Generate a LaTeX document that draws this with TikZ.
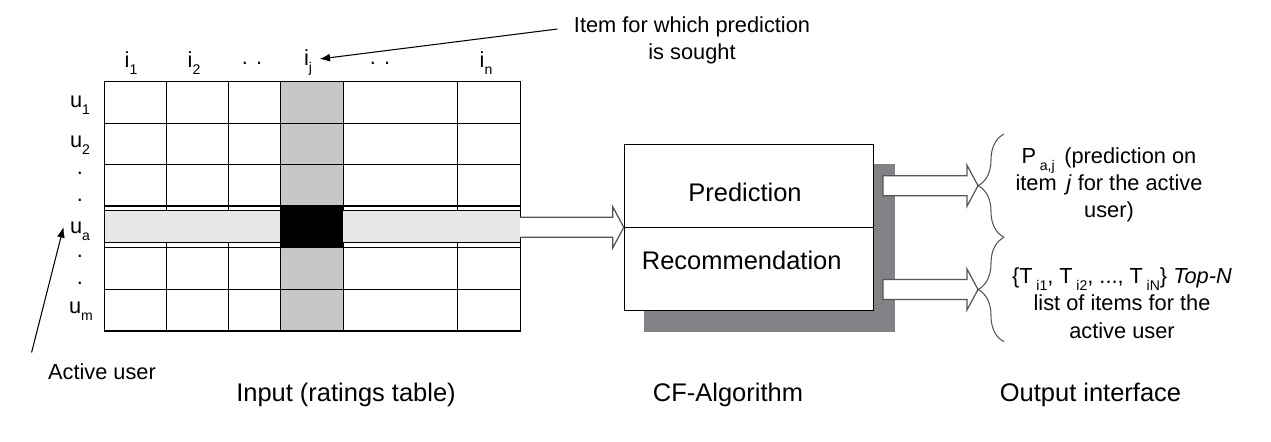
\documentclass[tikz,border=0pt]{standalone}
\usepackage{fontspec}
\setmainfont{Liberation Sans}
\usetikzlibrary{positioning}
\usetikzlibrary{calc}
\usetikzlibrary{fit}
\usetikzlibrary{arrows.meta}
\usetikzlibrary{decorations.pathreplacing}
\definecolor{colgray}{HTML}{C6C7C9}
\definecolor{bandgray}{HTML}{E6E7E8}
\definecolor{shadowgray}{HTML}{818285}
\definecolor{edgegray}{HTML}{555555}
\newcommand{\sub}[1]{\raisebox{-4pt}{\fontsize{8}{8}\selectfont #1}}
\tikzset{
  pointer/.style={-{Latex[length=6pt,width=4.5pt]},line width=0.6pt},
  openarrow/.style={draw=edgegray,fill=white,line width=0.7pt},
  outbrace/.style={decorate,decoration={brace,amplitude=0.52cm},draw=edgegray,line width=0.6pt},
  axislbl/.style={font=\fontsize{12.4}{15}\selectfont,inner sep=0pt},
  note/.style={font=\fontsize{12.4}{15.5}\selectfont,align=center,inner sep=0pt},
  caption/.style={font=\fontsize{14.5}{17}\selectfont,inner sep=0pt},
  boxlbl/.style={font=\fontsize{14.5}{17}\selectfont,inner sep=0pt}
}
\begin{document}
\begin{tikzpicture}[x=0.02cm,y=-0.02cm,line width=0.6pt]
\useasboundingbox (0,0) rectangle (1271,441);
% ratings table
\fill[colgray] (280.3,81.7) rectangle (343.3,331);
\foreach \y in {123.3,164.3,206,247.3,289.3}
  \draw (104.3,\y) -- (520.3,\y);
\foreach \x in {166.3,228.3,280.3,343.3,457.7}
  \draw (\x,81.7) -- (\x,331);
\draw[fill=bandgray] (104.3,210.7) rectangle (520.3,242.7);
\fill[black] (280.3,206) rectangle (343.3,247.3);
\draw[line width=0.8pt] (104.3,81.7) rectangle (520.3,331);
\node (grid) [fit={(104.3,81.7) (520.3,331)}, inner sep=0pt] {};
% column labels
\node at (131,63) (col1) [axislbl] {i\sub{1}};
\node at (194,63) (col2) [axislbl] {i\sub{2}};
\node at (252,63) (cold1) [axislbl] {. .};
\node at (308,63) (colj) [axislbl] {i\sub{j}};
\node at (380,63) (cold2) [axislbl] {. .};
\node at (486,63) (coln) [axislbl] {i\sub{n}};
% row labels
\node at (80,105) (row1) [axislbl] {u\sub{1}};
\node at (80,145) (row2) [axislbl] {u\sub{2}};
\node at (80,173) (rowd1) [axislbl] {.};
\node at (80,200) (rowd2) [axislbl] {.};
\node at (80,231) (rowa) [axislbl] {u\sub{a}};
\node at (80,256) (rowd3) [axislbl] {.};
\node at (80,283) (rowd4) [axislbl] {.};
\node at (81,311) (rowm) [axislbl] {u\sub{m}};
% annotations
\node at (692,40) (sought) [note] {Item for which prediction\\is sought};
\draw[pointer] ($(sought.west)+(-16,-11)$) -- ($(colj.east)+(7,-4)$);
\node at (102,372) (active) [note] {Active user};
\draw[pointer] ($(active.north west)+(-16,-11)$) -- ($(rowa.west)+(-6,-4)$);
% CF algorithm box
\fill[shadowgray] (644,164) rectangle (895,331.7);
\node (cf) [fit={(624.3,144.3) (873.7,310.3)}, inner sep=0pt, draw, fill=white] {};
\draw (cf.west) -- (cf.east);
\node at (745,192) (pred) [boxlbl] {Prediction};
\node at (741.7,260) (rec) [boxlbl] {Recommendation};
% input arrow
\draw[openarrow] ($(cf.west)+(-104,-10)$) -- ++(93,0) -- ++(0,-10.5) -- (cf.west)
  -- ++(-11,20.5) -- ++(0,-10.5) -- ++(-93,0);
% output braces
\draw[outbrace] (1004,237.3) -- (1004,134);
\draw[outbrace] (1004,341.7) -- (1004,237.3);
\coordinate (tip1) at (978,185.7);
\coordinate (tip2) at (978,289.5);
\draw[openarrow] ($(tip1)+(-95,-10)$) -- ++(84,0) -- ++(0,-10.5) -- (tip1)
  -- ++(-11,20.5) -- ++(0,-10.5) -- ++(-84,0) -- cycle;
\draw[openarrow] ($(tip2)+(-95,-10)$) -- ++(84,0) -- ++(0,-10.5) -- (tip2)
  -- ++(-11,20.5) -- ++(0,-10.5) -- ++(-84,0) -- cycle;
\node at (1109,185) (out1) [note] {P\,\sub{a,j}\, (prediction on\\item \,\textit{j} for the active\\user)};
\node at (1122,303) (out2) [note] {\{T\,\sub{i1}, T\,\sub{i2}, ..., T\,\sub{iN}\} \textit{Top-N}\\list of items for the\\active user};
% captions
\node at (346,395) (incap) [caption] {Input (ratings table)};
\node at (728,395) (cfcap) [caption] {CF-Algorithm};
\node at (1090.5,395) (outcap) [caption] {Output interface};
\end{tikzpicture}
\end{document}
